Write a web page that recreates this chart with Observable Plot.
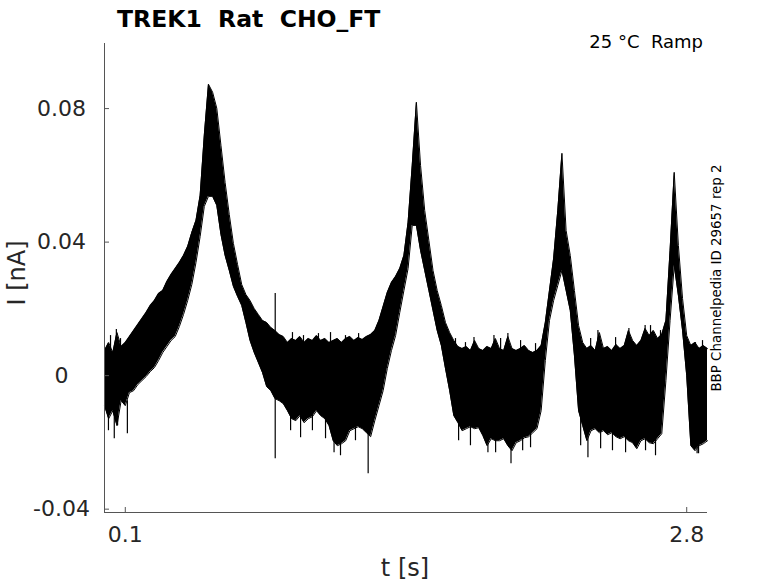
<!DOCTYPE html>
<html><head><meta charset="utf-8">
<script src="https://cdn.jsdelivr.net/npm/d3@7"></script>
<script src="https://cdn.jsdelivr.net/npm/@observablehq/plot@0.6"></script>
<style>
body{margin:0;background:#fff;}
#wrap{position:relative;width:778px;height:583px;font-family:"DejaVu Sans",sans-serif;}
#chart{position:absolute;left:0;top:0;}
#over{position:absolute;left:0;top:0;}
</style></head><body>
<div id="wrap"><div id="chart"></div></div>
<script>
// sample times every 0.02 s, 0 .. 2.9 s
const tStep = 0.02;
// upper envelope of the overlaid sweeps (nA)
const hi = [
0.0075,0.0099,0.0069,0.0129,0.0087,
0.0099,0.0117,0.0135,0.0153,0.0171,
0.0189,0.0210,0.0225,0.0246,0.0255,
0.0282,0.0303,0.0321,0.0339,0.0360,
0.0387,0.0429,0.0465,0.0540,0.0720,
0.0873,0.0849,0.0801,0.0690,0.0579,
0.0483,0.0396,0.0333,0.0273,0.0243,
0.0225,0.0201,0.0183,0.0165,0.0159,
0.0144,0.0135,0.0123,0.0117,0.0099,
0.0111,0.0105,0.0117,0.0099,0.0111,
0.0105,0.0120,0.0105,0.0111,0.0099,
0.0105,0.0111,0.0099,0.0111,0.0117,
0.0105,0.0114,0.0108,0.0117,0.0123,
0.0135,0.0165,0.0207,0.0249,0.0279,
0.0297,0.0321,0.0360,0.0459,0.0630,
0.0819,0.0630,0.0495,0.0405,0.0315,
0.0255,0.0210,0.0159,0.0129,0.0105,
0.0087,0.0081,0.0087,0.0075,0.0105,
0.0081,0.0075,0.0087,0.0081,0.0111,
0.0081,0.0075,0.0117,0.0081,0.0075,
0.0081,0.0090,0.0075,0.0069,0.0075,
0.0090,0.0159,0.0255,0.0351,0.0495,
0.0666,0.0435,0.0360,0.0255,0.0150,
0.0099,0.0081,0.0090,0.0075,0.0129,
0.0081,0.0087,0.0075,0.0093,0.0081,
0.0090,0.0135,0.0105,0.0090,0.0105,
0.0141,0.0120,0.0135,0.0111,0.0123,
0.0165,0.0375,0.0609,0.0390,0.0231,
0.0120,0.0090,0.0099,0.0081,0.0090,0.0081
];
// lower envelope of the overlaid sweeps (nA)
const lo = [
-0.0090,-0.0129,-0.0105,-0.0150,-0.0075,
-0.0090,-0.0051,-0.0045,-0.0027,-0.0015,
-0.0003,0.0012,0.0024,0.0045,0.0069,
0.0087,0.0105,0.0117,0.0147,0.0183,
0.0225,0.0273,0.0339,0.0417,0.0507,
0.0537,0.0537,0.0510,0.0423,0.0360,
0.0315,0.0267,0.0237,0.0210,0.0159,
0.0105,0.0069,0.0039,0.0009,-0.0033,
-0.0045,-0.0069,-0.0075,-0.0084,-0.0105,
-0.0129,-0.0135,-0.0120,-0.0141,-0.0129,
-0.0123,-0.0105,-0.0120,-0.0129,-0.0150,
-0.0195,-0.0210,-0.0204,-0.0195,-0.0165,
-0.0159,-0.0153,-0.0159,-0.0171,-0.0183,
-0.0135,-0.0090,-0.0045,0.0021,0.0075,
0.0120,0.0189,0.0255,0.0321,0.0450,
0.0450,0.0375,0.0315,0.0255,0.0195,
0.0135,0.0090,0.0021,-0.0045,-0.0120,
-0.0141,-0.0165,-0.0159,-0.0153,-0.0159,
-0.0156,-0.0180,-0.0210,-0.0189,-0.0195,
-0.0195,-0.0189,-0.0210,-0.0225,-0.0201,
-0.0195,-0.0186,-0.0183,-0.0171,-0.0159,
-0.0105,0.0045,0.0165,0.0225,0.0270,
0.0315,0.0255,0.0195,0.0060,-0.0105,
-0.0150,-0.0195,-0.0165,-0.0159,-0.0171,
-0.0165,-0.0177,-0.0171,-0.0183,-0.0189,
-0.0183,-0.0195,-0.0201,-0.0219,-0.0195,
-0.0189,-0.0201,-0.0204,-0.0189,-0.0174,
-0.0015,0.0165,0.0330,0.0240,0.0135,
0.0000,-0.0210,-0.0225,-0.0210,-0.0204,-0.0195
];
// isolated noise spikes: time (s), top and bottom of each spike (nA)
const spikeT  = [0.047, 0.057, 0.110, 0.821, 1.104, 1.268, 1.777, 1.844, 1.873, 1.940, 1.955, 2.325, 2.373, 2.522, 2.600, 2.850,
  0.029, 0.077, 0.904, 0.957, 1.029, 1.087, 1.159, 1.222, 1.688, 1.736, 1.905, 2.001, 2.073, 2.338, 2.458, 2.626, 2.674, 2.842, 2.876,
  0.019, 0.063, 0.895, 0.943, 1.000, 1.063, 1.135, 1.207, 1.703, 1.760, 1.881, 2.011, 2.049, 2.290, 2.386, 2.443, 2.506, 2.602, 2.650, 2.857];
const spikeHi = [-0.0060, 0.0138, -0.0075, 0.0246, -0.0135, -0.0150, 0.0114, -0.0150, 0.0120, 0.0126, -0.0195, -0.0150, 0.0135, 0.0141, 0.0150, -0.0180,
  0.0120, 0.0111, 0.0129, 0.0120, 0.0126, 0.0129, 0.0120, 0.0126, 0.0111, 0.0099, 0.0111, 0.0105, 0.0096, 0.0111, 0.0114, 0.0150, 0.0135, 0.0099, 0.0105,
  -0.0080, -0.0070, -0.0100, -0.0100, -0.0100, -0.0100, -0.0120, -0.0120, -0.0120, -0.0120, -0.0120, -0.0120, -0.0120, -0.0120, -0.0120, -0.0120, -0.0120, -0.0120, -0.0120, -0.0120];
const spikeLo = [-0.0189, 0.0075, -0.0174, -0.0249, -0.0231, -0.0294, 0.0060, -0.0231, 0.0060, 0.0060, -0.0264, -0.0246, 0.0060, 0.0060, 0.0060, -0.0234,
  0.0040, 0.0040, 0.0050, 0.0050, 0.0050, 0.0050, 0.0050, 0.0050, 0.0050, 0.0050, 0.0050, 0.0050, 0.0050, 0.0050, 0.0050, 0.0050, 0.0050, 0.0050, 0.0050,
  -0.0165, -0.0150, -0.0165, -0.0186, -0.0165, -0.0189, -0.0240, -0.0195, -0.0195, -0.0210, -0.0231, -0.0225, -0.0216, -0.0210, -0.0219, -0.0225, -0.0231, -0.0225, -0.0240, -0.0234];

const yTicks = [-0.04, 0, 0.04, 0.08];
const yTickLabels = ["-0.04", "0", "0.04", "0.08"];
const xTicks = [0.1, 2.8];
const xTickLabels = ["0.1", "2.8"];
const xDomain = [0, 2.9];
const yDomain = [-0.041, 0.0995];

const titleText = "TREK1  Rat  CHO_FT";
const subText = "25 °C  Ramp";
const sideText = "BBP Channelpedia ID 29657 rep 2";
const xLabel = "t [s]";
const yLabel = "I [nA]";

const rows = hi.map((h, i) => ({t: +(i * tStep).toFixed(2), hi: h, lo: lo[i]}));
const spikes = spikeT.map((t, i) => ({t, hi: spikeHi[i], lo: spikeLo[i]}));

const ink = "#262626";
const chart = Plot.plot({
  width: 778, height: 583,
  marginLeft: 104, marginRight: 71, marginTop: 43, marginBottom: 71,
  x: {domain: xDomain},
  y: {domain: yDomain},
  style: {fontFamily: "DejaVu Sans", background: "white", overflow: "visible"},
  marks: [
    Plot.areaY(rows, {x: "t", y1: "lo", y2: "hi", fill: "black"}),
    Plot.lineY(rows, {x: "t", y: "hi", stroke: "black", strokeWidth: 1}),
    Plot.lineY(rows, {x: "t", y: "lo", stroke: "black", strokeWidth: 1}),
    Plot.ruleX(spikes, {x: "t", y1: "lo", y2: "hi", stroke: "black", strokeWidth: 1.2}),
    Plot.ruleX([xDomain[0]], {stroke: "#555", strokeWidth: 1}),
    Plot.ruleY([yDomain[0]], {stroke: "#555", strokeWidth: 1}),
    Plot.axisY({ticks: yTicks, tickFormat: d => yTickLabels[yTicks.indexOf(d)], tickSize: -5, tickPadding: 48,
      textAnchor: "middle", fontSize: 22, color: ink, stroke: "#555", label: null}),
    Plot.axisX({ticks: xTicks, tickFormat: d => xTickLabels[xTicks.indexOf(d)], tickSize: -5, tickPadding: 19,
      fontSize: 22, color: ink, stroke: "#555", label: null})
  ]
});
const wrap = document.getElementById("chart");
wrap.appendChild(chart);

// overlay texts
const ns = "http://www.w3.org/2000/svg";
const over = document.createElementNS(ns, "svg");
over.setAttribute("id", "over");
over.setAttribute("width", 778); over.setAttribute("height", 583);
over.setAttribute("font-family", "DejaVu Sans");
function txt(s, attrs) {
  const e = document.createElementNS(ns, "text");
  for (const k in attrs) e.setAttribute(k, attrs[k]);
  e.style.whiteSpace = "pre";
  e.textContent = s;
  over.appendChild(e);
}
txt(titleText, {x: 117, y: 27, "font-size": 23.5, "font-weight": "bold", fill: "black"});
txt(subText, {x: 703, y: 48, "font-size": 18, "text-anchor": "end", fill: "black"});
txt(sideText, {transform: "translate(721,278) rotate(-90)", "font-size": 13.4, "text-anchor": "middle", fill: "black"});
txt(xLabel, {x: 405, y: 576, "font-size": 24, "text-anchor": "middle", fill: ink});
txt(yLabel, {transform: "translate(25,273) rotate(-90)", "font-size": 24, "text-anchor": "middle", fill: ink});
document.getElementById("wrap").appendChild(over);
</script>
</body></html>
